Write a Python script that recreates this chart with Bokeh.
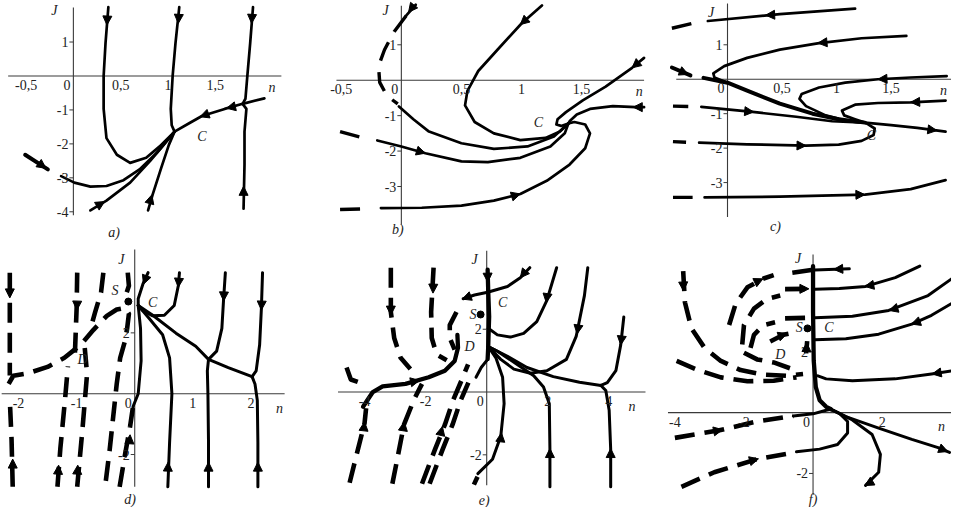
from bokeh.plotting import figure
from bokeh.models import Range1d, Arrow, NormalHead, ColumnDataSource
from bokeh.layouts import row, column
from bokeh.embed import file_html
from bokeh.resources import INLINE
from bokeh.core.properties import value

# ======================= DATA (n, J) =======================
# ---- panel a ----
a_C = (1.07, -1.64)
a1 = [(0.37, 2.03), (0.34, 0.97), (0.32, 0.0), (0.32, -0.97), (0.35, -1.83), (0.46, -2.32), (0.6, -2.56), (0.77, -2.41), (0.91, -2.08), a_C]
a2 = [(1.12, 2.03), (1.08, 0.97), (1.05, 0.0), (1.03, -0.97), (1.04, -1.45), a_C]
a3 = [(1.9, 2.03), (1.87, 0.97), (1.84, 0.0), (1.82, -0.67), (1.79, -0.82)]
a4 = [(1.8, -3.91), (1.81, -2.61), (1.81, -1.64), (1.83, -0.97), (1.79, -0.82)]
a5 = [(2.02, -0.66), (1.79, -0.82), (1.6, -0.97), (1.36, -1.18), (1.22, -1.40), a_C]
a6 = [(-0.13, -2.95), (0.01, -3.14), (0.18, -3.26), (0.35, -3.24), (0.53, -3.07), (0.7, -2.75), (0.88, -2.27), a_C]
a7 = [(0.18, -3.96), (0.35, -3.67), (0.6, -3.14), (0.81, -2.51), (0.94, -2.08), a_C]
a8 = [(0.79, -3.96), (0.84, -3.48), (0.93, -2.70), (1.01, -2.03), a_C]
a_d1 = [(-0.51, -2.32), (-0.27, -2.75)]
a_solid = [a1, a2, a3, a4, a5, a6, a7, a8]
a_thick = [a_d1]
a_dashed = []
a_arrows = [(0.36, 1.8, 0.355, 1.5), (1.115, 1.8, 1.11, 1.55), (1.89, 1.8, 1.885, 1.55),
            (1.8, -3.55, 1.8, -3.25), (1.7, -0.9, 1.62, -0.95), (1.4, -1.14, 1.34, -1.2),
            (0.27, -3.8, 0.33, -3.7), (0.81, -3.7, 0.83, -3.5), (-0.35, -2.6, -0.29, -2.72)]
a_xticks = [-0.5, 0, 0.5, 1, 1.5]
a_xlabels = ["-0,5", "0", "0,5", "1", "1,5"]
a_yticks = [1, -1, -2, -3, -4]
a_ylabels = ["1", "-1", "-2", "-3", "-4"]
a_texts = [("C", 1.36, -1.78), ("J", -0.2, 1.93), ("n", 2.1, -0.33), ("a)", 0.43, -4.62)]
a_dots = []

# ---- panel b ----
b_C = (1.39, -1.22)
b1_top = [(0.12, 2.13), (0.04, 1.82)]
b1_dash = [(0.04, 1.82), (-0.06, 1.37), (-0.14, 0.86), (-0.19, 0.4), (-0.18, -0.06), (-0.12, -0.44), (-0.03, -0.67)]
b1 = [(-0.02, -0.74), (0.1, -1.1), (0.23, -1.45), (0.5, -1.78), (0.77, -1.94), (1.05, -1.87), (1.27, -1.59), b_C]
b2 = [(1.17, 2.11), (1.0, 1.6), (0.8, 0.86), (0.64, 0.26), (0.55, -0.3), (0.53, -0.71), (0.61, -1.18), (0.77, -1.5), (0.99, -1.69), (1.2, -1.63), (1.32, -1.45), b_C]
b3 = [(2.02, 0.63), (1.92, 0.35), (1.7, -0.18), (1.51, -0.57), (1.37, -0.9), (1.3, -1.1), (1.29, -1.25), (1.33, -1.29), b_C]
b4 = [(2.02, -0.76), (1.95, -0.76), (1.76, -0.73), (1.57, -0.81), (1.46, -0.97), (1.4, -1.16), b_C]
b5_dash = [(-0.51, -1.45), (-0.31, -1.64)]
b5 = [(-0.2, -1.7), (0.0, -1.87), (0.2, -2.06), (0.5, -2.29), (0.72, -2.31), (0.99, -2.19), (1.24, -1.87), (1.36, -1.5), b_C]
b6_dash = [(-0.51, -3.65), (-0.31, -3.63)]
b6 = [(-0.17, -3.61), (0.17, -3.6), (0.5, -3.54), (0.77, -3.4), (0.99, -3.21), (1.21, -2.84), (1.4, -2.38), (1.53, -1.92), (1.57, -1.5), (1.53, -1.25), (1.44, -1.18), b_C]
b_solid = [b1_top, b1, b2, b3, b4, b5, b6]
b_thick = []
b_dashed = [b1_dash, b5_dash, b6_dash]
b_arrows = [(0.09, 2.05, 0.06, 1.92), (1.05, 1.75, 0.99, 1.57), (1.97, 0.49, 1.92, 0.35),
            (2.0, -0.76, 1.93, -0.76), (0.13, -1.99, 0.2, -2.06), (0.93, -3.27, 0.99, -3.21)]
b_xticks = [-0.5, 0, 0.5, 1, 1.5]
b_xlabels = ["-0,5", "0", "0,5", "1", "1,5"]
b_yticks = [1, -1, -2, -3]
b_ylabels = ["1", "-1", "-2", "-3"]
b_texts = [("C", 1.14, -1.18), ("J", -0.13, 1.97), ("n", 1.98, -0.33), ("b)", -0.03, -4.22)]
b_dots = []

# ---- panel c ----
c_C = (1.26, -1.26)
c1_dash = [(-0.51, 1.48), (-0.3, 1.64)]
c1 = [(-0.18, 1.69), (0.48, 1.89), (1.17, 2.05)]
c2 = [(1.64, 1.26), (1.23, 1.19), (0.84, 1.05), (0.48, 0.86), (0.18, 0.62), (-0.03, 0.38), (-0.13, 0.17), (-0.12, 0.05), (0.0, -0.1)]
c_main = [(-0.22, 0.04), (0.0, -0.1), (0.18, -0.33), (0.48, -0.71), (0.78, -1.0), (1.02, -1.16), c_C]
c3 = [(2.01, 0.09), (1.68, 0.05), (1.38, 0.0), (1.08, -0.1), (0.84, -0.24), (0.68, -0.43), (0.66, -0.57), (0.72, -0.78), (0.9, -1.05), (1.11, -1.22), c_C]
c4 = [(2.0, -0.62), (1.68, -0.67), (1.38, -0.69), (1.17, -0.74), (1.05, -0.91), (1.07, -1.05), (1.17, -1.16), c_C]
c5 = [(2.0, -1.52), (1.74, -1.41), (1.5, -1.33), c_C]
c6_dash = [(-0.5, -0.78), (-0.36, -0.79)]
c6 = [(-0.24, -0.8), (0.23, -0.95), (0.63, -1.09), (0.96, -1.22), c_C]
c7_dash = [(-0.5, -1.81), (-0.38, -1.83)]
c7 = [(-0.26, -1.84), (0.18, -1.89), (0.72, -1.93), (1.02, -1.9), (1.23, -1.79), (1.34, -1.62), (1.35, -1.43), (1.29, -1.31), c_C]
c8_dash = [(-0.5, -3.43), (-0.32, -3.43)]
c8 = [(-0.21, -3.43), (0.48, -3.41), (1.26, -3.35), (1.68, -3.19), (2.0, -2.93)]
c9 = [(-0.51, 0.34), (-0.34, 0.11)]
c_solid = [c1, c2, c3, c4, c5, c6, c7, c8]
c_thick = [c_main, c9]
c_dashed = [c1_dash, c6_dash, c7_dash, c8_dash]
c_arrows = [(0.42, 1.87, 0.35, 1.86), (0.9, 1.07, 0.83, 1.05), (1.45, 0.01, 1.38, 0.0),
            (1.75, -0.66, 1.68, -0.67), (0.17, -0.93, 0.24, -0.95), (0.65, -1.925, 0.72, -1.93),
            (1.19, -3.355, 1.26, -3.35), (1.85, -1.46, 1.92, -1.49), (-0.42, 0.22, -0.36, 0.14)]
c_xticks = [0, 0.5, 1, 1.5]
c_xlabels = ["0", "0,5", "1", "1,5"]
c_yticks = [1, -1, -2, -3]
c_ylabels = ["1", "-1", "-2", "-3"]
c_texts = [("C", 1.32, -1.64), ("J", -0.15, 1.94), ("n", 1.98, -0.34), ("c)", 0.44, -4.29)]
c_dots = []

# ---- panel d ----
d_C = (0.06, 2.9)
d1_top = [(2.2, 3.98), (2.18, 2.8), (2.15, 1.61), (2.09, 0.75), (2.02, 0.56)]
d1_bot = [(2.12, -3.06), (2.12, -1.61), (2.11, -0.22), (2.07, 0.32), (2.02, 0.56)]
d_slow = [d_C, (0.31, 2.58), (0.71, 1.99), (1.05, 1.56), (1.27, 1.13), (1.61, 0.86), (2.02, 0.56)]
d2_top = [(1.56, 3.98), (1.53, 3.12), (1.5, 2.15), (1.41, 1.4), (1.27, 1.13)]
d2_bot = [(1.27, -3.06), (1.27, -1.61), (1.26, 0.0), (1.25, 0.75), (1.27, 1.13)]
d3 = [(0.57, -3.06), (0.6, -1.61), (0.64, 0.0), (0.6, 1.18), (0.48, 1.94), (0.25, 2.47), d_C]
d4 = [(-0.03, -0.43), (0.06, 0.0), (0.11, 1.08), (0.1, 2.15), d_C]
d5 = [(0.77, 3.98), (0.75, 3.55), (0.68, 2.9), (0.51, 2.58), (0.31, 2.56), (0.14, 2.74), d_C]
d6 = [(0.23, 3.98), (0.14, 3.6), (0.06, 3.12), d_C]
d_D = [(-2.17, 0.32), (-2.09, 0.59), (-1.84, 0.67), (-1.5, 0.88), (-1.21, 1.18), (-0.93, 1.61), (-0.71, 2.1), (-0.48, 2.56), (-0.31, 2.77), (-0.17, 2.82), (-0.1, 2.63), (-0.13, 2.15), (-0.17, 1.72), (-0.25, 1.18), (-0.31, 0.32), (-0.37, -0.75), (-0.43, -1.83), (-0.51, -3.06)]
d_T1 = [(-2.15, 3.98), (-2.15, 2.0), (-2.15, 0.6)]
d_B1 = [(-2.1, -3.06), (-2.12, -1.5), (-2.15, -0.2)]
d_T2 = [(-0.99, 3.98), (-1.0, 2.8), (-1.03, 1.29)]
d_B2 = [(-1.33, -3.06), (-1.28, -1.8), (-1.2, -0.2), (-1.15, 0.9)]
d_B3 = [(-0.99, -3.06), (-0.9, -1.18), (-0.82, 0.65), (-0.86, 1.5)]
d_T3 = [(-0.54, 3.98), (-0.58, 3.33), (-0.68, 2.69), (-0.76, 2.15)]
d_T4 = [(-0.12, 3.98), (-0.1, 3.55), (-0.16, 3.2)]
d_B5 = [(-0.26, -3.06), (-0.17, -2.04), (-0.08, -1.08), (-0.03, -0.43)]
d_solid = [d1_top, d1_bot, d_slow, d2_top, d2_bot, d3, d4, d5, d6]
d_thick = []
d_dashed = [d_D, d_T1, d_B1, d_T2, d_B2, d_B3, d_T3, d_T4, d_B5]
d_arrows = [(2.185, 3.0, 2.18, 2.75), (2.12, -2.55, 2.12, -2.25), (1.535, 3.3, 1.53, 3.05),
            (1.27, -2.55, 1.27, -2.25), (0.57, -2.55, 0.575, -2.25), (0.76, 3.75, 0.75, 3.5),
            (0.19, 3.8, 0.15, 3.6), (-2.15, 3.45, -2.15, 3.15), (-2.1, -2.45, -2.1, -2.15),
            (-0.99, 3.05, -0.995, 2.75), (-1.32, -2.65, -1.31, -2.35), (-0.99, -2.65, -0.98, -2.35),
            (-0.09, -1.6, -0.08, -1.35)]
d_xticks = [-2, -1, 0, 1, 2]
d_xlabels = ["-2", "-1", "0", "1", "2"]
d_yticks = [2, -2]
d_ylabels = ["2", "-2"]
d_texts = [("C", 0.31, 3.01), ("S", -0.34, 3.39), ("D", -0.9, 1.13), ("J", -0.23, 4.42), ("n", 2.49, -0.48), ("d)", -0.08, -3.48)]
d_dots = [(-0.11, 3.03)]

# ---- panel e ----
e_C = (0.03, 3.18)
e_B = (0.05, 1.45)
e_top = [(1.41, 3.96), (1.1, 3.64), (0.68, 3.36), e_C, (-0.4, 3.09), (-0.77, 2.97)]
e_vert = [(0.03, 3.9), (0.05, 3.2), (0.08, 2.4), (0.06, 1.8), e_B, (0.03, 1.05)]
e_U = [(2.29, 3.96), (1.97, 2.92), (1.64, 2.24), (1.21, 1.87), (0.78, 1.75), (0.35, 1.82), (0.05, 2.03)]
e_3 = [(3.31, 3.96), (3.2, 3.07), (2.93, 1.77), (2.61, 1.04), (1.97, 0.68), (1.43, 0.6), (0.89, 0.73), (0.46, 1.04), e_B]
e_4top = [(4.49, 2.39), (4.39, 1.51), (4.23, 0.68), (3.95, 0.3), (3.74, 0.21)]
e_long = [(3.74, 0.21), (3.04, 0.31), (2.18, 0.49), (1.32, 0.78), (0.68, 1.14), e_B]
e_4bot = [(4.06, -3.02), (4.06, -1.82), (4.01, -0.58), (3.9, 0.05), (3.74, 0.21)]
e_2 = [(2.07, -3.02), (2.07, -1.82), (2.05, -0.37), (1.86, 0.16), (1.54, 0.52), (1.0, 0.88), (0.35, 1.3), e_B]
e_1 = [(-0.29, -2.6), (0.19, -2.14), (0.46, -1.41), (0.57, -0.37), (0.52, 0.47), (0.3, 1.09), e_B]
e_0 = [(-0.35, 0.47), (-0.18, 0.78), (0.03, 1.04)]
e_left = [(-4.05, -0.47), (-3.73, 0.0), (-3.41, 0.18), (-2.66, 0.26), (-1.9, 0.47), (-1.37, 0.68), (-1.05, 0.99), (-0.94, 1.41), (-0.96, 1.82)]
e_hook = [(-4.59, 0.78), (-4.45, 0.4), (-4.16, 0.3)]
e_T1 = [(-3.14, 3.96), (-3.14, 2.55), (-3.03, 1.72), (-2.82, 1.09), (-2.5, 0.73)]
e_T2 = [(-1.74, 3.96), (-1.82, 2.55), (-1.8, 1.72), (-1.64, 1.2), (-1.31, 1.01)]
e_T3 = [(-0.99, 2.55), (-1.21, 2.13), (-1.21, 1.72), (-1.05, 1.35)]
e_L1 = [(-4.49, -2.89), (-4.27, -2.03), (-4.0, -0.99), (-3.95, -0.52)]
e_L2 = [(-3.09, -2.92), (-2.93, -2.14), (-2.71, -1.04), (-2.39, -0.26), (-2.12, 0.26)]
e_L3 = [(-2.12, -2.92), (-1.69, -1.82), (-1.37, -1.04), (-1.1, -0.26), (-0.83, 0.36), (-0.61, 0.88)]
e_L4 = [(-1.87, -2.92), (-1.44, -1.82), (-1.12, -1.04), (-0.85, -0.26), (-0.6, 0.3)]
e_L5 = [(-0.42, -2.95), (-0.3, -2.7)]
e_solid = [e_top, e_U, e_3, e_4top, e_long, e_4bot, e_2, e_1, e_0]
e_thick = [e_vert, e_left]
e_dashed = [e_hook, e_T1, e_T2, e_T3, e_L1, e_L2, e_L3, e_L4, e_L5]
e_arrows = [(1.2, 3.76, 1.1, 3.64), (-0.6, 3.03, -0.8, 2.96), (0.03, 3.75, 0.035, 3.5),
            (1.98, 3.05, 1.95, 2.85), (3.0, 2.1, 2.96, 1.85), (4.42, 1.75, 4.39, 1.5),
            (4.06, -2.1, 4.06, -1.8), (2.07, -2.1, 2.07, -1.8), (0.45, -1.55, 0.48, -1.3),
            (-2.4, 0.33, -2.2, 0.37), (-3.14, 2.75, -3.14, 2.45), (-1.75, 3.45, -1.76, 3.15),
            (-4.03, -1.2, -4.0, -0.95), (-2.74, -1.2, -2.7, -0.95), (-1.5, -1.3, -1.45, -1.1)]
e_xticks = [-4, -2, 0, 2, 4]
e_xlabels = ["-4", "-2", "0", "2", "4"]
e_yticks = [2, -2]
e_ylabels = ["2", "-2"]
e_texts = [("C", 0.52, 2.86), ("S", -0.45, 2.47), ("D", -0.56, 1.46), ("J", -0.4, 4.22), ("n", 4.76, -0.47), ("e)", -0.08, -3.44)]
e_dots = [(-0.2, 2.47)]

# ---- panel f ----
f_J = (0.52, 0.11)
f_vert = [(0.0, 4.82), (0.0, 3.31), (0.02, 1.7), (0.08, 0.84), (0.19, 0.41), (0.38, 0.19), f_J]
f_h0 = [(1.05, 4.73), (0.05, 4.69)]
f_h1 = [(3.09, 4.82), (2.38, 4.44), (1.52, 4.15), (0.76, 4.08), (0.05, 4.06)]
f_h2 = [(4.0, 4.39), (3.33, 3.85), (2.19, 3.36), (1.14, 3.17), (0.05, 3.12)]
f_h3 = [(4.0, 3.58), (3.43, 3.2), (2.86, 2.91), (1.9, 2.58), (0.95, 2.43), (0.05, 2.4)]
f_h4 = [(4.0, 1.37), (3.43, 1.27), (2.38, 1.11), (1.14, 1.05), (0.38, 1.11), (0.14, 1.21)]
f_b1 = [f_J, (0.95, -0.13), (1.9, -0.51), (2.86, -0.88), (3.62, -1.15), (3.95, -1.31)]
f_b2 = [f_J, (1.14, -0.24), (1.71, -0.72), (1.95, -1.37), (1.9, -1.96), (1.52, -2.39)]
f_b3 = [(-0.48, -1.29), (0.19, -1.2), (0.71, -1.05), (1.0, -0.67), (1.0, -0.29), (0.76, -0.02), f_J]
f_b4 = [(-0.57, -0.11), (0.0, -0.04), (0.38, 0.08), f_J]
f_h0d = [(-0.05, 4.69), (-0.6, 4.6)]
f_h1d = [(-0.81, 4.06), (-0.1, 4.07)]
f_h2d = [(-0.81, 3.1), (-0.1, 3.12)]
f_b3d = [(-3.81, -2.44), (-2.86, -1.96), (-1.62, -1.53), (-0.67, -1.34)]
f_b4d = [(-4.0, -0.83), (-2.71, -0.58), (-1.62, -0.29), (-0.57, -0.11)]
f_s1 = [(-3.76, 4.65), (-3.71, 3.63), (-3.52, 2.77), (-3.14, 2.13), (-2.67, 1.7), (-2.1, 1.4), (-1.43, 1.25), (-0.76, 1.21), (-0.29, 1.27)]
f_s2 = [(-3.95, 1.7), (-3.33, 1.4), (-2.67, 1.16), (-1.9, 1.03), (-1.14, 1.05), (-0.48, 1.16)]
f_s3 = [(-2.43, 2.88), (-2.24, 3.58), (-1.9, 4.12), (-1.43, 4.41), (-1.14, 4.52)]
f_s4 = [(-2.05, 2.24), (-2.0, 2.88), (-1.71, 3.42), (-1.33, 3.74), (-0.95, 3.85)]
f_s5 = [(-1.81, 2.13), (-1.71, 2.56), (-1.43, 2.88), (-1.1, 2.97)]
f_s6 = [(-1.24, 2.34), (-0.86, 2.56), (-0.48, 2.65)]
f_D = [(-2.0, 1.97), (-1.62, 1.75), (-1.14, 1.65), (-0.67, 1.46)]
f_sm = [(-0.2, 1.95), (-0.17, 2.35)]
f_solid = [f_h0, f_h1, f_h2, f_h3, f_h4, f_b1, f_b2, f_b3, f_b4]
f_thick = [f_vert]
f_dashed = [f_h0d, f_h1d, f_h2d, f_b3d, f_b4d, f_s1, f_s2, f_s3, f_s4, f_s5, f_s6, f_D, f_sm]
f_arrows = [(0.75, 4.72, 0.6, 4.71), (1.65, 4.18, 1.5, 4.15), (2.35, 3.41, 2.2, 3.36),
            (3.0, 2.97, 2.85, 2.91), (3.6, 1.3, 3.45, 1.27), (3.7, -1.19, 3.9, -1.28),
            (1.62, -2.32, 1.5, -2.4), (-1.75, -1.57, -1.58, -1.52), (-2.8, -0.6, -2.62, -0.56),
            (-3.76, 4.3, -3.75, 4.0), (-1.6, 4.32, -1.45, 4.4), (-0.3, 4.07, -0.12, 4.07),
            (-0.9, 2.54, -0.75, 2.6), (-0.19, 2.05, -0.18, 2.3)]
f_xticks = [-4, -2, 0, 2]
f_xlabels = ["-4", "-2", "0", "2"]
f_yticks = [2, -2]
f_ylabels = ["2", "-2"]
f_texts = [("C", 0.46, 2.8), ("S", -0.4, 2.8), ("D", -0.95, 1.91), ("J", -0.43, 5.08), ("n", 3.72, -0.44), ("f)", 0.0, -2.87)]
f_dots = [(-0.16, 2.77)]

# ======================= LAYOUT / STYLE =======================
SX = 951 / 965.0
SY = 507 / 516.0
SERIF = value("Liberation Serif")


def px_x(X):
    return round((X - 2) * SX)


def px_y(Y):
    return round(Y * SY)


def panel(box, mapping, axext, solid, thick, dashed, arrows, xt, xl, yt, yl, texts, dots, big):
    L, T, R, B = box
    X0, Y0, ux, uy = mapping
    w = px_x(R) - px_x(L)
    h = px_y(B) - px_y(T)
    xr = Range1d((L - X0) / ux, (R - X0) / ux)
    yr = Range1d((Y0 - B) / uy, (Y0 - T) / uy)
    p = figure(width=w, height=h, x_range=xr, y_range=yr, output_backend="svg",
               toolbar_location=None, x_axis_location=None, y_axis_location=None,
               min_border=0, outline_line_color=None, background_fill_color="white",
               border_fill_color="white")
    p.grid.visible = False
    xmin, xmax, ymin, ymax = axext
    # axes through the origin
    p.segment(x0=[xmin, 0], y0=[0, ymin], x1=[xmax, 0], y1=[0, ymax],
              line_color="#3a3a3a", line_width=1.1)
    ppx = w / (xr.end - xr.start)
    tl = 4.0 / ppx
    p.segment(x0=[0] * len(yt), y0=yt, x1=[-tl] * len(yt), y1=yt, line_color="#3a3a3a", line_width=1)

    lw = 3.0 if big else 2.7
    if solid:
        p.multi_line([[q[0] for q in c] for c in solid], [[q[1] for q in c] for c in solid],
                     line_color="black", line_width=lw, line_join="round", line_cap="round")
    if thick:
        p.multi_line([[q[0] for q in c] for c in thick], [[q[1] for q in c] for c in thick],
                     line_color="black", line_width=lw + 1.3, line_join="round", line_cap="round")
    if dashed:
        p.multi_line([[q[0] for q in c] for c in dashed], [[q[1] for q in c] for c in dashed],
                     line_color="black", line_width=(4.6 if big else 3.4),
                     line_dash=("20 10" if big else "20 12"), line_join="round")
    if arrows:
        src = ColumnDataSource(dict(x0=[a[0] for a in arrows], y0=[a[1] for a in arrows],
                                    x1=[a[2] for a in arrows], y1=[a[3] for a in arrows]))
        p.add_layout(Arrow(end=NormalHead(size=9, fill_color="black", line_color="black", line_width=1),
                           x_start="x0", y_start="y0", x_end="x1", y_end="y1",
                           line_alpha=0, source=src))
    if dots:
        p.scatter([d[0] for d in dots], [d[1] for d in dots], size=7, color="black")

    # tick labels
    nz = [(t, s) for t, s in zip(xt, xl) if t != 0]
    p.text([t for t, s in nz], [0] * len(nz), text=[s for t, s in nz], text_font=SERIF,
           text_font_size="14px", text_align="center", text_baseline="top", y_offset=4, text_color="#222222")
    zl = [s for t, s in zip(xt, xl) if t == 0]
    if zl:
        p.text([0], [0], text=zl, text_font=SERIF, text_font_size="14px", text_align="right",
               text_baseline="top", x_offset=-3, y_offset=4, text_color="#222222")
    p.text([0] * len(yt), yt, text=yl, text_font=SERIF, text_font_size="14px", text_align="right",
           text_baseline="middle", x_offset=-5, text_color="#222222")
    p.text([t[1] for t in texts], [t[2] for t in texts], text=[t[0] for t in texts], text_font=SERIF,
           text_font_style="italic", text_font_size="14px", text_align="center",
           text_baseline="middle", text_color="#222222")
    return p


pa = panel((2, 0, 332, 252), (76, 76.7, 96, 34.5), (-0.69, 2.2, -4.1, 2.02),
           a_solid, a_thick, a_dashed, a_arrows, a_xticks, a_xlabels, a_yticks, a_ylabels, a_texts, a_dots, False)
pb = panel((332, 0, 665, 252), (409, 81, 122, 36), (-0.54, 2.02, -4.08, 2.1),
           b_solid, b_thick, b_dashed, b_arrows, b_xticks, b_xlabels, b_yticks, b_ylabels, b_texts, b_dots, False)
pc = panel((665, 0, 967, 252), (740, 80, 110.5, 35), (-0.47, 2.1, -4.0, 2.2),
           c_solid, c_thick, c_dashed, c_arrows, c_xticks, c_xlabels, c_yticks, c_ylabels, c_texts, c_dots, False)
pd = panel((2, 252, 330, 516), (138.3, 400, 59, 31), (-2.29, 2.58, -3.06, 4.74),
           d_solid, d_thick, d_dashed, d_arrows, d_xticks, d_xlabels, d_yticks, d_ylabels, d_texts, d_dots, True)
pe = panel((330, 252, 663, 516), (495.7, 398.3, 31, 32), (-4.87, 5.2, -2.97, 4.5),
           e_solid, e_thick, e_dashed, e_arrows, e_xticks, e_xlabels, e_yticks, e_ylabels, e_texts, e_dots, True)
pf = panel((663, 252, 967, 516), (826.7, 419.3, 35, 31), (-4.2, 4.1, -2.7, 5.2),
           f_solid, f_thick, f_dashed, f_arrows, f_xticks, f_xlabels, f_yticks, f_ylabels, f_texts, f_dots, True)

layout = column(row(pa, pb, pc), row(pd, pe, pf))
open("out.html", "w").write(file_html(layout, INLINE))
